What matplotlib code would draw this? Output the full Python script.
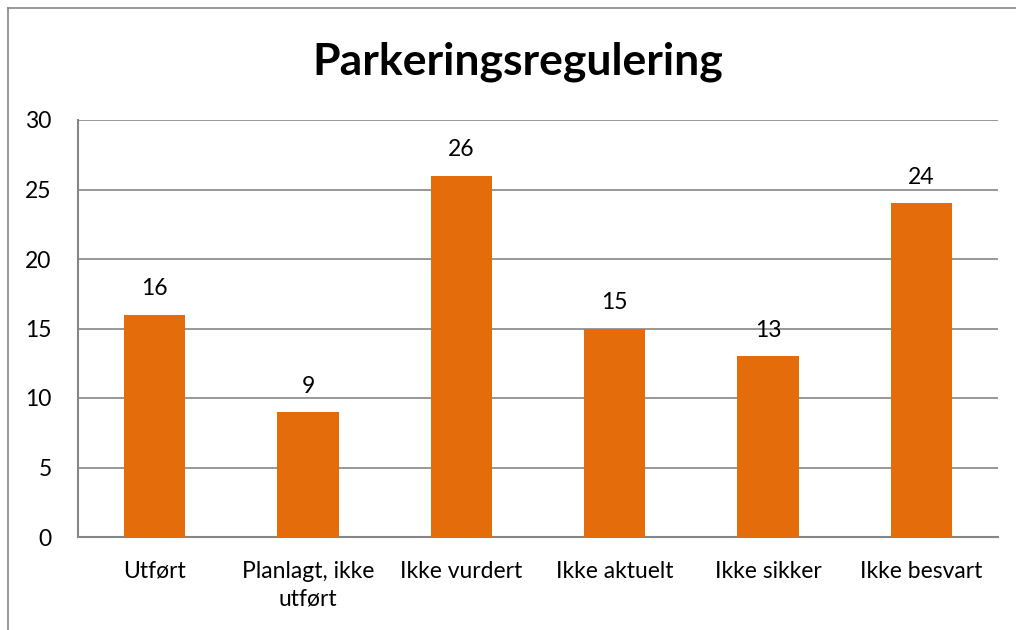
import matplotlib
matplotlib.use('Agg')
import matplotlib.pyplot as plt
from matplotlib.lines import Line2D

plt.rcParams['font.family'] = ['Lato', 'DejaVu Sans']

# data
kategorier = ['Utført', 'Planlagt, ikke\nutført', 'Ikke vurdert', 'Ikke aktuelt', 'Ikke sikker', 'Ikke besvart']
antall = [16, 9, 26, 15, 13, 24]

orange = '#E46C0A'
grid_grey = '#868686'

fig = plt.figure(figsize=(10.16, 6.30), dpi=100)
ax = fig.add_axes([78 / 1016, 1 - 537 / 630, 920 / 1016, 417 / 630])

x = range(len(kategorier))
bars = ax.bar(x, antall, width=0.4, color=orange, zorder=3)
for b, v in zip(bars, antall):
    ax.text(b.get_x() + b.get_width() / 2, v + 1.1, str(v), ha='center', va='bottom', fontsize=16.5)

ax.set_xlim(-0.5, len(kategorier) - 0.5)
ax.set_ylim(0, 30)
ax.set_yticks(range(0, 31, 5))
ax.yaxis.grid(True, color=grid_grey, linewidth=1.2, zorder=0)
ax.set_xticks(list(x))
ax.set_xticklabels(kategorier, fontsize=16.5, linespacing=1.4)
ax.tick_params(axis='both', length=0, labelsize=16.5)
ax.tick_params(axis='x', pad=17)
ax.tick_params(axis='y', pad=19)
for s in ['top', 'right']:
    ax.spines[s].set_visible(False)
for s in ['left', 'bottom']:
    ax.spines[s].set_color(grid_grey)
    ax.spines[s].set_linewidth(1.5)

fig.text(0.51, 1 - 62 / 630, 'Parkeringsregulering', ha='center', va='center',
         fontsize=32, fontweight='bold')

# ramme rundt diagrammet
fig.add_artist(Line2D([8 / 1016, 8 / 1016], [0, 1 - 8 / 630], color=grid_grey, lw=1.2, transform=fig.transFigure))
fig.add_artist(Line2D([8 / 1016, 1], [1 - 8 / 630, 1 - 8 / 630], color=grid_grey, lw=1.2, transform=fig.transFigure))

fig.savefig('out.png', dpi=100)
